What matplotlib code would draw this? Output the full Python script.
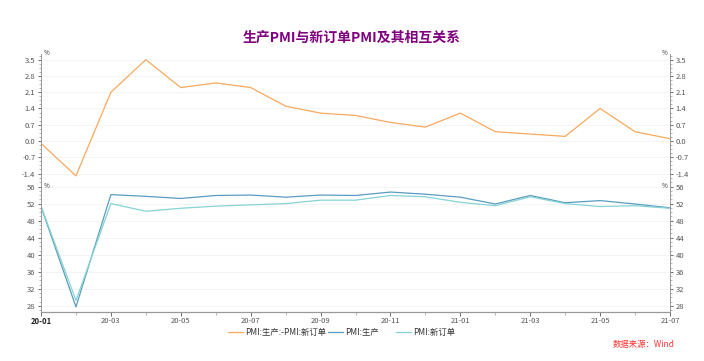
import matplotlib.pyplot as plt
from matplotlib.ticker import AutoMinorLocator

plt.rcParams['font.family'] = ['Noto Sans CJK SC', 'DejaVu Sans']

months = ['20-01', '20-02', '20-03', '20-04', '20-05', '20-06', '20-07', '20-08', '20-09',
          '20-10', '20-11', '20-12', '21-01', '21-02', '21-03', '21-04', '21-05', '21-06', '21-07']
pmi_prod = [51.3, 27.8, 54.1, 53.7, 53.2, 53.9, 54.0, 53.5, 54.0, 53.9,
            54.7, 54.2, 53.5, 51.9, 53.9, 52.2, 52.7, 51.9, 51.0]
pmi_order = [51.4, 29.3, 52.0, 50.2, 50.9, 51.4, 51.7, 52.0, 52.8, 52.8,
             53.9, 53.6, 52.3, 51.5, 53.6, 52.0, 51.3, 51.5, 50.9]
diff = [-0.1, -1.5, 2.1, 3.5, 2.3, 2.5, 2.3, 1.5, 1.2, 1.1,
        0.8, 0.6, 1.2, 0.4, 0.3, 0.2, 1.4, 0.4, 0.1]

c_diff = '#F7A95E'
c_prod = '#5A9CBF'
c_order = '#86D3D3'
c_tick = '#555555'

x = list(range(len(months)))

fig = plt.figure(figsize=(7.04, 3.61), dpi=100)
left, width = 41 / 704, (670 - 41) / 704
ax1 = fig.add_axes([left, 1 - 184 / 361, width, (184 - 54) / 361])
ax2 = fig.add_axes([left, 1 - 311.5 / 361, width, (311.5 - 184) / 361])

# 上半部分：差值
ax1.plot(x, diff, color=c_diff, lw=0.9)
ax1.set_ylim(-1.85, 3.745)
ax1.set_yticks([-1.4, -0.7, 0.0, 0.7, 1.4, 2.1, 2.8, 3.5])
ax1.set_yticklabels(['-1.4', '-0.7', '0.0', '0.7', '1.4', '2.1', '2.8', '3.5'])

# 下半部分：生产与新订单
ax2.plot(x, pmi_prod, color=c_prod, lw=0.9)
ax2.plot(x, pmi_order, color=c_order, lw=0.9)
ax2.set_ylim(26.71, 56.59)
ax2.set_yticks([28, 32, 36, 40, 44, 48, 52, 56])

for ax in (ax1, ax2):
    ax.set_xlim(0, len(months) - 1)
    for s in ('top', 'bottom'):
        ax.spines[s].set_visible(False)
    ax.spines['left'].set_color('#999999')
    ax.spines['left'].set_linewidth(0.7)
    ax.spines['right'].set_visible(False)
    ax.tick_params(axis='y', labelsize=5.5, colors=c_tick, length=2.5, width=0.6,
                   pad=1.5, direction='out', labelright=False)
    ax.yaxis.set_minor_locator(AutoMinorLocator(4))
    ax.tick_params(axis='y', which='minor', length=1.5, width=0.5, colors='#999999')
    ax.grid(axis='y', color='#f2f2f2', lw=0.6)
    ax.set_axisbelow(True)
    # 右侧轴
    axr = ax.twinx()
    axr.set_ylim(ax.get_ylim())
    axr.set_yticks(ax.get_yticks())
    axr.set_yticklabels([t.get_text() for t in ax.get_yticklabels()])
    axr.yaxis.set_minor_locator(AutoMinorLocator(4))
    for s in ('top', 'bottom', 'left'):
        axr.spines[s].set_visible(False)
    axr.spines['right'].set_color('#999999')
    axr.spines['right'].set_linewidth(0.7)
    axr.tick_params(axis='y', labelsize=5.5, colors=c_tick, length=2.5, width=0.6, pad=1.5)
    axr.tick_params(axis='y', which='minor', length=1.5, width=0.5, colors='#999999')

ax1.set_xticks([])
ax2.spines['bottom'].set_visible(True)
ax2.spines['bottom'].set_color('#999999')
ax2.spines['bottom'].set_linewidth(0.9)
ax2.set_xticks(x[::2])
ax2.set_xticklabels(months[::2])
ax2.set_xticks(x, minor=True)
ax2.tick_params(axis='x', labelsize=5.5, colors=c_tick, length=3, width=0.6, pad=1.0)
ax2.tick_params(axis='x', which='minor', length=2, width=0.5, colors='#999999')
lab0 = ax2.get_xticklabels()[0]
lab0.set_fontweight('bold')
lab0.set_color('#222222')

# 单位
fig.text(left + 0.004, 1 - 53 / 361, '%', fontsize=4.5, color='#333333', va='center')
fig.text(left + width - 0.004, 1 - 53 / 361, '%', fontsize=4.5, color='#333333', va='center', ha='right')
fig.text(left + 0.004, 1 - 186.5 / 361, '%', fontsize=4.5, color='#333333', va='center')
fig.text(left + width - 0.004, 1 - 186.5 / 361, '%', fontsize=4.5, color='#333333', va='center', ha='right')

fig.text(0.5, 1 - 38 / 361, '生产PMI与新订单PMI及其相互关系', ha='center', va='center',
         fontsize=10, fontweight='bold', color='#800080')

h1, = ax1.plot([], [], color=c_diff, lw=0.9)
h2, = ax2.plot([], [], color=c_prod, lw=0.9)
h3, = ax2.plot([], [], color=c_order, lw=0.9)
fig.legend([h1, h2], ['PMI:生产:-PMI:新订单', 'PMI:生产'],
           loc='center left', bbox_to_anchor=(228 / 704, 1 - 332 / 361), ncol=2, frameon=False,
           fontsize=6, handlelength=1.8, handletextpad=0.2, columnspacing=0.3,
           labelcolor='#333333', borderaxespad=0, borderpad=0)
fig.legend([h3], ['PMI:新订单'],
           loc='center left', bbox_to_anchor=(396 / 704, 1 - 332 / 361), frameon=False,
           fontsize=6, handlelength=1.8, handletextpad=0.2,
           labelcolor='#333333', borderaxespad=0, borderpad=0)

fig.text(675 / 704, 1 - 344 / 361, '数据来源：Wind', ha='right', va='center',
         fontsize=6, color='#FF3333', style='italic')

fig.savefig('out.png', dpi=100, facecolor='white')
